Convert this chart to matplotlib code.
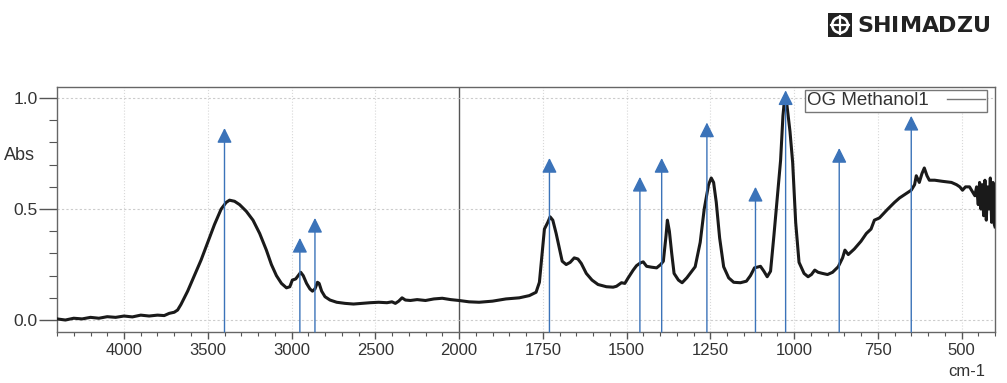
import numpy as np
import matplotlib
matplotlib.use("Agg")
import matplotlib.pyplot as plt
from matplotlib.lines import Line2D
from matplotlib.patches import Rectangle, Circle

plt.rcParams['font.family'] = ['Liberation Sans', 'DejaVu Sans']

# spectrum (wavenumber cm-1, absorbance)
wavenumber = [4400, 4350, 4300, 4250, 4200, 4150, 4100, 4050, 4000, 3950,
              3900, 3850, 3800, 3760, 3730, 3700, 3680, 3660, 3620, 3580,
              3540, 3500, 3460, 3420, 3390, 3370, 3340, 3310, 3270, 3230,
              3190, 3150, 3120, 3090, 3060, 3030, 3010, 2995, 2975, 2960,
              2945, 2930, 2910, 2890, 2875, 2860, 2845, 2835, 2820, 2800,
              2770, 2730, 2680, 2630, 2580, 2530, 2480, 2430, 2400, 2380,
              2360, 2340, 2320, 2290, 2250, 2200, 2150, 2100, 2050, 2000,
              1970, 1940, 1900, 1860, 1820, 1790, 1770, 1760, 1752, 1745,
              1735, 1728, 1720, 1710, 1700, 1692, 1680, 1668, 1656, 1645,
              1635, 1620, 1603, 1585, 1560, 1540, 1530, 1515, 1505, 1495,
              1480, 1470, 1458, 1450, 1440, 1425, 1410, 1398, 1390, 1382,
              1378, 1372, 1365, 1358, 1345, 1334, 1320, 1310, 1295, 1280,
              1268, 1255, 1247, 1240, 1232, 1222, 1210, 1195, 1180, 1160,
              1142, 1130, 1118, 1100, 1090, 1080, 1070, 1060, 1050, 1040,
              1033, 1028, 1022, 1012, 1004, 995, 985, 970, 958, 948,
              938, 928, 915, 900, 885, 868, 855, 848, 838, 820,
              800, 784, 770, 760, 745, 720, 700, 685, 665, 650,
              640, 635, 626, 618, 611, 603, 596, 580, 557, 530,
              515, 505, 497, 488, 476, 468, 460, 455, 450, 446,
              442, 438, 434, 430, 426, 422, 418, 414, 410, 406,
              402, 400]
absorbance = [0.005, 0.0, 0.008, 0.005, 0.012, 0.008, 0.015, 0.012, 0.018, 0.014,
              0.022, 0.018, 0.022, 0.02, 0.03, 0.035, 0.045, 0.07, 0.13, 0.2,
              0.27, 0.35, 0.43, 0.5, 0.53, 0.54, 0.535, 0.52, 0.49, 0.45,
              0.39, 0.315, 0.25, 0.2, 0.165, 0.145, 0.15, 0.18, 0.185, 0.2,
              0.215, 0.2, 0.165, 0.14, 0.13, 0.14, 0.17, 0.165, 0.13, 0.105,
              0.09, 0.08, 0.075, 0.072, 0.075, 0.078, 0.08, 0.078, 0.082, 0.075,
              0.085, 0.1, 0.09, 0.088, 0.092, 0.088, 0.095, 0.098, 0.092, 0.088,
              0.082, 0.08, 0.085, 0.095, 0.1, 0.11, 0.125, 0.17, 0.3, 0.41,
              0.44, 0.465, 0.45, 0.39, 0.32, 0.265, 0.25, 0.26, 0.28, 0.275,
              0.255, 0.21, 0.18, 0.16, 0.15, 0.148, 0.152, 0.168, 0.165, 0.19,
              0.225, 0.245, 0.258, 0.262, 0.242, 0.238, 0.235, 0.25, 0.265, 0.38,
              0.45, 0.4, 0.3, 0.21, 0.18, 0.168, 0.19, 0.21, 0.24, 0.35,
              0.5, 0.61, 0.64, 0.62, 0.53, 0.37, 0.24, 0.19, 0.17, 0.168,
              0.175, 0.2, 0.235, 0.242, 0.22, 0.195, 0.22, 0.38, 0.55, 0.72,
              0.92, 1.0, 0.98, 0.85, 0.71, 0.44, 0.26, 0.21, 0.195, 0.205,
              0.225, 0.215, 0.21, 0.205, 0.215, 0.24, 0.28, 0.315, 0.295, 0.32,
              0.355, 0.39, 0.41, 0.45, 0.46, 0.5, 0.53, 0.55, 0.57, 0.585,
              0.61, 0.65, 0.62, 0.66, 0.685, 0.65, 0.63, 0.63, 0.625, 0.62,
              0.61, 0.6, 0.585, 0.6, 0.6, 0.58, 0.56, 0.6, 0.52, 0.62,
              0.5, 0.61, 0.47, 0.63, 0.45, 0.6, 0.5, 0.64, 0.44, 0.62,
              0.43, 0.42]

# peak markers: position and arrow tip height
peak_pos = [3400, 2950, 2860, 1730, 1460, 1395, 1260, 1115, 1025, 865, 650]
peak_tip = [0.865, 0.37, 0.46, 0.73, 0.645, 0.73, 0.89, 0.60, 1.035, 0.775, 0.92]

major_x = [4000, 3500, 3000, 2500, 2000, 1750, 1500, 1250, 1000, 750, 500]
legend_label = 'OG Methanol1'
brand = 'SHIMADZU'


# half scale above 2000 cm-1
def fwd(w):
    w = np.asarray(w, dtype=float)
    return np.where(w > 2000, 2000 + (w - 2000) / 2.0, w)


def inv(u):
    u = np.asarray(u, dtype=float)
    return np.where(u > 2000, 2000 + (u - 2000) * 2.0, u)


fig = plt.figure(figsize=(10.07, 3.83), dpi=100)
ax = fig.add_axes([57 / 1007, 1 - 332 / 383, 938 / 1007, 245 / 383])
ax.set_xscale('function', functions=(fwd, inv))
ax.set_xlim(4400, 400)
ax.set_ylim(-0.054, 1.05)

ax.plot(wavenumber, absorbance, color='#1a1a1a', lw=2.2, zorder=3)

ymin = ax.get_ylim()[0]
for w, tip in zip(peak_pos, peak_tip):
    ax.annotate('', xy=(w, tip), xytext=(w, ymin),
                arrowprops=dict(arrowstyle='-|>,head_length=0.6,head_width=0.3',
                                mutation_scale=15, color='#3b73b9', lw=1.0,
                                shrinkA=0, shrinkB=0),
                zorder=4)

# grid and 2000 divider
for w in major_x:
    if w == 2000:
        ax.axvline(w, color='#555555', lw=1.0, zorder=1)
    else:
        ax.axvline(w, color='#d8d8d8', lw=0.8, ls=':', zorder=1)
for y in [0.0, 0.5, 1.0]:
    ax.axhline(y, color='#cccccc', lw=0.8, ls=(0, (2, 2)), zorder=1)

ax.set_xticks(major_x)
ax.set_xticklabels([str(w) for w in major_x])
minor_x = [w for w in range(4400, 2000, -100) if w not in major_x]
minor_x += [w for w in range(2000, 399, -50) if w not in major_x]
ax.set_xticks(minor_x, minor=True)
ax.set_yticks([0.0, 0.5, 1.0])
ax.set_yticklabels(['0.0', '0.5', '1.0'])
ax.set_yticks(np.arange(0, 1.01, 0.1), minor=True)

ax.tick_params(axis='x', which='major', length=5, width=1, color='#555555',
               labelsize=12, labelcolor='#333333', pad=3)
ax.tick_params(axis='x', which='minor', length=3, width=0.8, color='#555555')
ax.tick_params(axis='y', which='major', length=13, width=1, color='#555555',
               labelsize=12.5, labelcolor='#333333', pad=1)
ax.tick_params(axis='y', which='minor', length=6, width=0.8, color='#555555')
for s in ax.spines.values():
    s.set_color('#666666')
    s.set_linewidth(1.0)

fig.text(35 / 1007, 1 - 156 / 383, 'Abs', ha='right', va='center',
         fontsize=13, color='#333333')
fig.text(985 / 1007, 1 - 372 / 383, 'cm-1', ha='right', va='center',
         fontsize=12, color='#333333')

handle = Line2D([0], [0], color='#777777', lw=1.0)
leg = ax.legend([handle], [legend_label], loc='upper right', markerfirst=False,
                fancybox=False, edgecolor='#777777', framealpha=1,
                fontsize=13.5, borderaxespad=0.0, borderpad=0.12,
                handlelength=2.0, handletextpad=1.0,
                bbox_to_anchor=(0.9915, 0.988))
leg.get_frame().set_linewidth(1.0)
for t in leg.get_texts():
    t.set_color('#333333')

# logo mark
lax = fig.add_axes([828 / 1007, 1 - 37 / 383, 24 / 1007, 24 / 383])
lax.set_xlim(0, 1)
lax.set_ylim(0, 1)
lax.axis('off')
lax.add_patch(Rectangle((0, 0), 1, 1, color='#222222'))
lax.add_patch(Circle((0.5, 0.5), 0.38, facecolor='white', edgecolor='none'))
lax.add_patch(Circle((0.5, 0.5), 0.27, facecolor='#222222', edgecolor='none'))
lax.plot([0.5, 0.5], [0.12, 0.88], color='white', lw=1.6)
lax.plot([0.12, 0.88], [0.5, 0.5], color='white', lw=1.6)

# brand name, letters placed one by one to widen it
char_w = {'S': 0.72, 'H': 0.837, 'I': 0.372, 'M': 0.995, 'A': 0.774,
          'D': 0.83, 'Z': 0.725, 'U': 0.812}
size_pt = 16
em_px = size_pt * 100 / 72
xpx = 857
for ch in brand:
    fig.text(xpx / 1007, 1 - 26 / 383, ch, ha='left', va='center',
             fontsize=size_pt, fontweight='bold', family='DejaVu Sans',
             color='#222222')
    xpx += char_w[ch] * em_px * 0.93 + 1

fig.savefig('out.png', dpi=100)
